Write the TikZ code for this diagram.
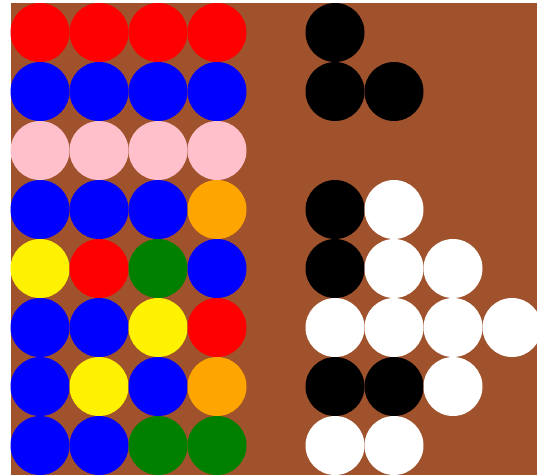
\documentclass[tikz,border=0pt]{standalone}
\definecolor{boardbrown}{RGB}{160,82,45}
\definecolor{pegpink}{RGB}{255,192,203}
\definecolor{pegorange}{RGB}{255,165,0}
\definecolor{peggreen}{RGB}{0,128,0}
\begin{document}
\begin{tikzpicture}[x=1pt,y=-1pt,
  peg/.style={circle,draw=none,inner sep=0pt,minimum size=59pt}]
\useasboundingbox (0,0) rectangle (537,474);
\clip (0,0) rectangle (537,474);
\fill[boardbrown] (11,3) rectangle (540,480);
% code pegs: row / colours
\foreach \r/\a/\b/\c/\d in {
  1/red/red/red/red,
  2/blue/blue/blue/blue,
  3/pegpink/pegpink/pegpink/pegpink,
  4/blue/blue/blue/pegorange,
  5/yellow/red/peggreen/blue,
  6/blue/blue/yellow/red,
  7/blue/yellow/blue/pegorange,
  8/blue/blue/peggreen/peggreen}{
  \pgfmathsetmacro{\yy}{32.5+59*(\r-1)}
  \node[peg,fill=\a] (c\r a) at (40,\yy) {};
  \node[peg,fill=\b] (c\r b) at (99,\yy) {};
  \node[peg,fill=\c] (c\r c) at (158,\yy) {};
  \node[peg,fill=\d] (c\r d) at (217,\yy) {};
}
% key pegs
\foreach \r/\k/\col in {
  1/1/black,
  2/1/black, 2/2/black,
  4/1/black, 4/2/white,
  5/1/black, 5/2/white, 5/3/white,
  6/1/white, 6/2/white, 6/3/white, 6/4/white,
  7/1/black, 7/2/black, 7/3/white,
  8/1/white, 8/2/white}{
  \pgfmathsetmacro{\yy}{32.5+59*(\r-1)}
  \pgfmathsetmacro{\xx}{335+59*(\k-1)}
  \node[peg,fill=\col] (k\r-\k) at (\xx,\yy) {};
}
\end{tikzpicture}
\end{document}
